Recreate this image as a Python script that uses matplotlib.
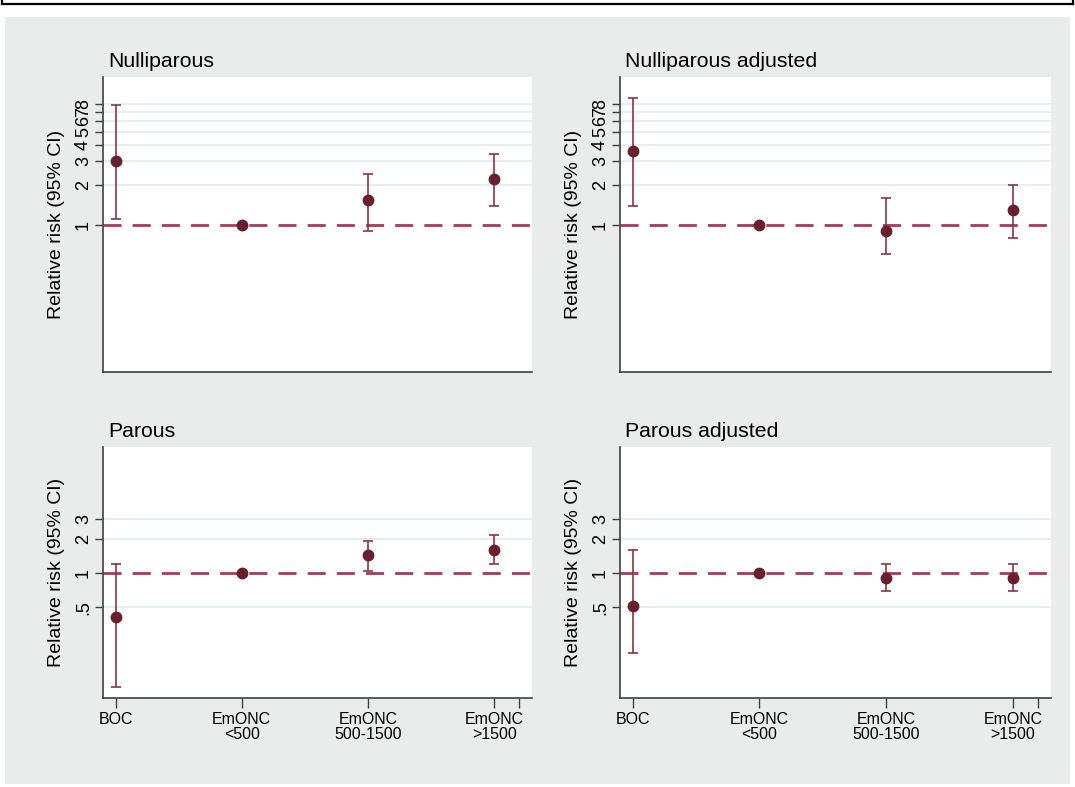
import numpy as np
import matplotlib.pyplot as plt
from matplotlib.patches import Rectangle
from matplotlib.lines import Line2D

plt.rcParams['font.family'] = ['Liberation Sans', 'DejaVu Sans']

# categories on the x axis
cats = ["BOC", "EmONC\n<500", "EmONC\n500-1500", "EmONC\n>1500"]
xpos = [1, 2, 3, 4]

# relative risk and 95% CI (reference group has no CI)
null_rr = [3.04, 1.0, 1.53, 2.22]
null_lo = [1.11, np.nan, 0.91, 1.40]
null_hi = [7.90, np.nan, 2.42, 3.41]

nulladj_rr = [3.59, 1.0, 0.91, 1.30]
nulladj_lo = [1.40, np.nan, 0.61, 0.80]
nulladj_hi = [8.87, np.nan, 1.60, 1.99]

par_rr = [0.41, 1.0, 1.43, 1.59]
par_lo = [0.10, np.nan, 1.04, 1.19]
par_hi = [1.20, np.nan, 1.90, 2.16]

paradj_rr = [0.51, 1.0, 0.90, 0.90]
paradj_lo = [0.20, np.nan, 0.70, 0.70]
paradj_hi = [1.59, np.nan, 1.19, 1.19]

top_ticks = [1, 2, 3, 4, 5, 6, 7, 8]
top_labels = ["1", "2", "3", "4", "5", "6", "7", "8"]
bot_ticks = [0.5, 1, 2, 3]
bot_labels = [".5", "1", "2", "3"]

W, H = 1075, 787
fig = plt.figure(figsize=(W / 100, H / 100), dpi=100)
fig.patch.set_facecolor("white")

# grey graph region + black rule at the top
fig.add_artist(Rectangle((5 / W, 1 - 784 / H), 1065 / W, 767 / H,
                         transform=fig.transFigure, facecolor="#eaebeb",
                         edgecolor="none", zorder=0))
fig.add_artist(Line2D([0.002, 0.998], [1 - 4 / H, 1 - 4 / H],
                      transform=fig.transFigure, color="black", lw=1.6))
fig.add_artist(Line2D([0.002, 0.002], [1, 1 - 4 / H],
                      transform=fig.transFigure, color="black", lw=1.6))
fig.add_artist(Line2D([0.998, 0.998], [1, 1 - 4 / H],
                      transform=fig.transFigure, color="black", lw=1.6))

dash_col = "#a83a58"
pt_col = "#6a1f2c"
bar_col = "#8a3545"
grid_col = "#e3ebee"
axis_col = "#404040"


def make_ax(l, t, r, b):
    return fig.add_axes([l / W, 1 - b / H, (r - l) / W, (b - t) / H])


def panel(ax, title, rr, lo, hi, ticks, labels, show_x):
    ax.set_facecolor("white")
    ax.set_yscale("log")
    ax.set_ylim(0.08, 12.8)
    ax.set_xlim(0.9, 4.3)
    for t in ticks:
        if t != 1:
            ax.axhline(t, color=grid_col, lw=1.2, zorder=1)
    ax.axhline(1, color=dash_col, lw=2.0, dashes=(6.5, 4), zorder=2)
    rr = np.array(rr)
    lo = np.array(lo)
    hi = np.array(hi)
    ok = ~np.isnan(lo)
    x = np.array(xpos)
    ax.errorbar(x[ok], rr[ok], yerr=[rr[ok] - lo[ok], hi[ok] - rr[ok]],
                fmt="none", ecolor=bar_col, elinewidth=1.2, capsize=3.8,
                capthick=1.2, zorder=3)
    ax.plot(x, rr, "o", color=pt_col, ms=7.5, zorder=4)

    ax.minorticks_off()
    ax.set_yticks(ticks)
    ax.set_yticklabels(labels, rotation=90, va="center", fontsize=13)
    ax.tick_params(axis="y", length=6, width=1, color=axis_col, pad=2)
    ax.set_ylabel("Relative risk (95% CI)", fontsize=14, labelpad=7)

    if show_x:
        ax.set_xticks(xpos + [4.2])
        ax.set_xticklabels(cats + [""], fontsize=11.5, linespacing=1.0)
        ax.tick_params(axis="x", length=7, width=1, color=axis_col, pad=3)
    else:
        ax.set_xticks([])

    for s in ["top", "right"]:
        ax.spines[s].set_visible(False)
    for s in ["left", "bottom"]:
        ax.spines[s].set_color(axis_col)
        ax.spines[s].set_linewidth(1.2)
    ax.set_title(title, loc="left", fontsize=15.3, pad=7, x=0.012)


ax1 = make_ax(103, 77, 532, 372)
ax2 = make_ax(620, 77, 1051, 372)
ax3 = make_ax(103, 447, 532, 698)
ax4 = make_ax(620, 447, 1051, 698)

panel(ax1, "Nulliparous", null_rr, null_lo, null_hi, top_ticks, top_labels, False)
panel(ax2, "Nulliparous adjusted", nulladj_rr, nulladj_lo, nulladj_hi,
      top_ticks, top_labels, False)
panel(ax3, "Parous", par_rr, par_lo, par_hi, bot_ticks, bot_labels, True)
panel(ax4, "Parous adjusted", paradj_rr, paradj_lo, paradj_hi,
      bot_ticks, bot_labels, True)

fig.savefig("out.png", dpi=100)
